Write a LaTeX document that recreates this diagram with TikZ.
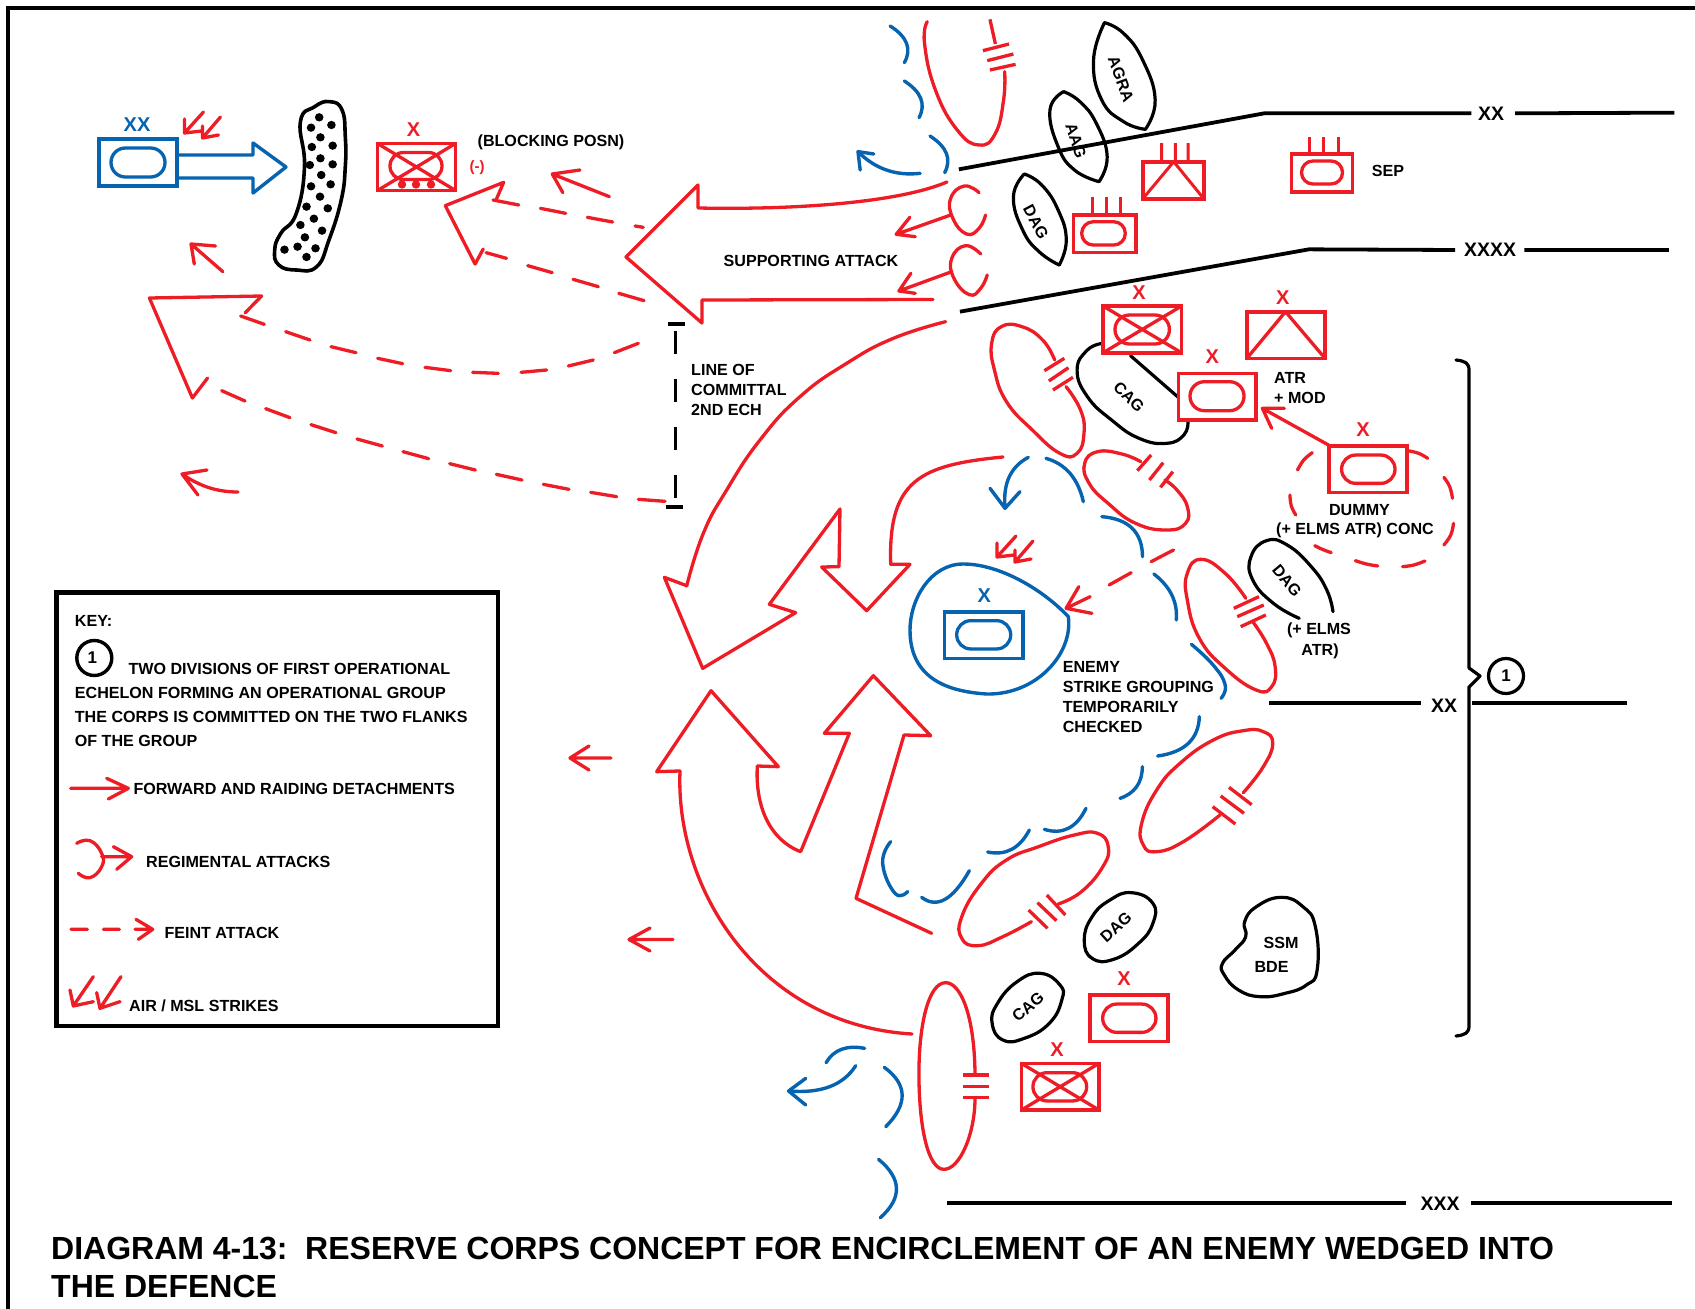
\documentclass[tikz,border=0pt]{standalone}
\usepackage{fontspec}
\setmainfont{Liberation Sans}
\newcommand\cvv[2]{\draw[#1] plot[smooth,tension=.8] coordinates {#2};}
\newcommand\cvc[2]{\draw[#1] plot[smooth cycle,tension=.8] coordinates {#2};}
% arc from (#2,#3) through (#4,#5) to (#6,#7)
\newcommand\arcq[7]{\draw[#1] (#2,#3) .. controls ({4/3*#4-#6/3},{4/3*#5-#7/3}) and ({4/3*#4-#2/3},{4/3*#5-#3/3}) .. (#6,#7);}
% box centred on (#2,#3), width #4, height #5, colour #1
\newcommand\boxr[5]{\draw[#1,line width=3.6pt,line join=miter] ({#2-#4/2},{#3-#5/2}) rectangle ({#2+#4/2},{#3+#5/2});}
% pill centred on (#2,#3), width #4, height #5
\newcommand\pill[5]{\draw[#1,line width=3.3pt,rounded corners={#5/2*1pt-0.1pt}] ({#2-#4/2},{#3-#5/2}) rectangle ({#2+#4/2},{#3+#5/2});}
\newcommand\crossbox[5]{\draw[#1,line width=3.3pt] ({#2-#4/2},{#3-#5/2}) -- ({#2+#4/2},{#3+#5/2}) ({#2+#4/2},{#3-#5/2}) -- ({#2-#4/2},{#3+#5/2});}
\newcommand\strikes[2]{\begin{scope}[shift={(#1,#2)}]
 \draw[rd] (19,-21) -- (0,0) (0,-14) -- (0,0) -- (17,-2);
 \draw[rd] (36,-16) -- (18,5) (18,-7) -- (18,5) -- (34,2);
\end{scope}}
\tikzset{
 rd/.style={draw=redc,line width=3.3pt,line cap=round,line join=round},
 bl/.style={draw=bluec,line width=3.4pt,line cap=round,line join=round},
 bk/.style={draw=black,line width=3.2pt,line cap=round,line join=round},
 lab/.style={font=\fontsize{16.1}{18}\selectfont\bfseries,inner sep=0pt,text=black},
 labw/.style={lab,anchor=west},
 lbig/.style={font=\fontsize{19.5}{22}\selectfont\bfseries,inner sep=0pt,text=black},
 xr/.style={font=\fontsize{20}{22}\selectfont\bfseries,inner sep=0pt,text=redc},
 xb/.style={font=\fontsize{20}{22}\selectfont\bfseries,inner sep=0pt,text=bluec},
 zA/.style={shift={(80,0)},xscale=0.40816,yscale=0.33333},
 zB/.style={shift={(840,0)},xscale=0.54528,yscale=0.33333},
 zC/.style={shift={(960,280)},xscale=0.34439,yscale=0.33333},
 zD/.style={shift={(640,440)},xscale=0.33333,yscale=0.33333},
 zE/.style={shift={(760,800)},xscale=0.35714,yscale=0.33333},
 zF/.style={shift={(40,580)},xscale=0.33333,yscale=0.33333},
 zG/.style={shift={(1120,710)},xscale=0.33333,yscale=0.33333},
 zH/.style={shift={(220,290)},xscale=0.33333,yscale=0.33333},
 zI/.style={shift={(660,300)},xscale=0.33333,yscale=0.33333},
}
\definecolor{redc}{HTML}{EE1C25}
\definecolor{bluec}{HTML}{0563B0}
\begin{document}
\begin{tikzpicture}[x=1pt,y=-1pt]
\useasboundingbox (0,0) rectangle (1695,1309);
\fill[white] (0,0) rectangle (1695,1309);
% page frame
\draw[black,line width=4pt] (8,1309) -- (8,8) -- (1695,8);

% ---------- top-left group
\boxr{bluec}{138}{162.5}{78}{47}
\pill{bluec}{138}{162.5}{54}{29}
\node[xb] (xxblue) at (137,125) {XX};
\draw[bl] (177,155) -- (253,155) -- (253,143) -- (286,167) -- (253,193) -- (253,178) -- (177,178);
\strikes{184.5}{133}
\begin{scope}[zA]
\cvc{bk,line width=3.6pt}{(540,365)(575,320)(612,305)(642,330)(650,410)(650,500)(640,600)(610,720)(580,800)(530,810)(487,795)(477,750)(492,700)(530,640)(550,500)}
\foreach \a/\b in {586/352,616/375,566/383,589/412,568/441,619/437,589/475,563/495,619/493,591/525,566/559,614/553,588/590,555/620,607/625,573/656,540/675,593/692,551/712,533/740,501/749,577/745,555/771}
 \fill[black] (\a,\b) ellipse [x radius=10.5,y radius=12.5];
% feint upper arrow
\draw[rd] (1020,598) -- (1038,547) -- (895,617) -- (968,792) -- (988,747);
\foreach \a/\b/\c/\d in {1012/600/1075/615,1128/625/1190/640,1243/652/1305/666,1360/678/1380/682,995/758/1045/775,1097/797/1157/818,1208/838/1270/860,1320/880/1382/902}
 \draw[rd] (\a,\b) -- (\c,\d);
\draw[rd] (1297,590) -- (1157,522) (1225,510) -- (1157,522) -- (1183,578);
\draw[rd] (350,815) -- (272,732) (332,738) -- (272,732) -- (280,792);
\end{scope}
\boxr{redc}{416.5}{167}{78}{47}
\pill{redc}{416}{166}{52}{27}
\crossbox{redc}{416.5}{167}{78}{47}
\foreach \a in {402,416,431}{\fill[redc] (\a,184.5) circle (4.2);}
\node[xr] (xa) at (413.5,130) {X};
\node[font=\fontsize{15}{18}\selectfont\bfseries,inner sep=0pt,text=redc] (minus) at (477,168) {(-)};
\node[lab] (block) at (551,142) {(BLOCKING POSN)};

% left big feint arrow
\draw[rd] (245,313) -- (261.6,296) -- (149.4,298) -- (192.4,398) -- (207.6,378);
\begin{scope}[zH]
\foreach \a/\b/\c/\d in {62/78/133/103,197/125/270/150,333/170/408/188,473/205/548/221,615/232/692/242,758/247/835/250,903/247/980/240,1045/228/1120/210,1183/188/1255/160,5/302/75/333,137/356/210/383,273/404/348/428,411/447/487/468,549/485/626/506,689/521/766/540,829/553/906/570,970/583/1047/598,1112/607/1190/620,1255/628/1335/634}
 \draw[rd] (\a,\b) -- (\c,\d);
\end{scope}
\draw[rd] (238,492) .. controls (215,492) and (198,485) .. (182,474) (207,470) -- (182,474) -- (198,495);

% supporting attack arrow
\draw[rd] (947,182) .. controls (900,202) and (800,210) .. (698,208) -- (698,185) -- (626,257) -- (702,323) -- (702,300) -- (933,299.5);
\node[lab] (supp) at (811,260.5) {SUPPORTING ATTACK};

% line of committal
\draw[black,line width=3.6pt] (667.7,324) -- (685,324) (675.3,331) -- (675.3,354) (675.3,379) -- (675.3,402) (675.3,427) -- (675.3,450) (675.3,475) -- (675.3,498) (666,507) -- (682.7,507);
\node[labw] (lc1) at (691,370) {LINE OF};
\node[labw] (lc2) at (691,389.5) {COMMITTAL};
\node[labw] (lc3) at (691,410) {2ND ECH};

% ---------- top-right group
\begin{scope}[zB]
\cvv{rd}{(160,65)(155,130)(175,270)(215,390)(255,435)(285,400)(300,300)(302,215)}
\draw[rd,line cap=butt] (275,58) -- (285,132) (262,152) -- (310,132) (270,182) -- (318,162) (275,210) -- (322,193);
\arcq{bl}{92}{78}{122}{130}{118}{188}
\arcq{bl}{118}{243}{148}{295}{145}{353}
\arcq{bl}{165}{408}{195}{460}{192}{518}
\arcq{bl}{147}{520}{85}{510}{33}{455}
\draw[bl] (62,462) -- (33,455) -- (37,510);
\cvv{rd}{(255,578)(228,558)(203,595)(207,655)(232,702)(255,685)(267,645)}
\draw[rd] (203,645) -- (103,703) (128,652) -- (103,703) -- (138,710);
\cvv{rd}{(258,762)(230,737)(205,775)(209,835)(237,884)(258,865)(270,825)}
\draw[rd] (205,815) -- (108,873) (130,820) -- (108,873) -- (138,880);
% lenses
\cvv{bk}{(485,68)(465,180)(480,300)(520,365)(560,388)}
\cvv{bk}{(560,388)(578,300)(555,180)(520,100)(485,68)}
\cvv{bk}{(410,275)(385,330)(400,440)(430,510)(475,545)}
\cvv{bk}{(475,545)(490,470)(470,370)(440,305)(410,275)}
\cvv{bk}{(338,522)(318,590)(335,690)(365,755)(402,795)}
\cvv{bk}{(402,795)(415,720)(400,630)(370,555)(338,522)}
% boundaries
\draw[black,line width=3.8pt] (218,508) -- (778,340) -- (1158,340) (1238,340) -- (1530,338);
\draw[black,line width=3.8pt] (220,935) -- (860,748) -- (1128,750) (1255,750) -- (1520,750);
\end{scope}
\node[lab,rotate=-70] (agra) at (1121,79) {AGRA};
\node[lab,rotate=-72] (aag) at (1076,141) {AAG};
\node[lab,rotate=-62] (daga) at (1036,222) {DAG};
\node[lbig] (xxa) at (1491,114) {XX};
\node[lbig] (xxxx) at (1490,250) {XXXX};
% SEP unit
\boxr{redc}{1322}{173}{61}{38}
\pill{redc}{1322}{172.5}{41}{23}
\draw[redc,line width=3pt] (1309,137) -- (1309,154) (1323.7,137) -- (1323.7,154) (1338,137) -- (1338,154);
\node[lab] (sep) at (1388,171) {SEP};
% triangle unit
\boxr{redc}{1173.5}{180.5}{61.5}{37.5}
\draw[redc,line width=3pt] (1173.7,161.7) -- (1142.6,199) (1173.7,161.7) -- (1204,199) (1161.7,143) -- (1161.7,161.7) (1175.4,143) -- (1175.4,161.7) (1188,143) -- (1188,161.7);
% DAG unit
\boxr{redc}{1104.7}{233.8}{62.6}{37.7}
\pill{redc}{1103.5}{233.4}{43.6}{23.3}
\draw[redc,line width=3pt] (1092,197) -- (1092,215) (1106,197) -- (1106,215) (1120,197) -- (1120,215);

% ---------- centre right group
\begin{scope}[zC]
\cvv{rd}{(275,240)(240,180)(180,140)(120,140)(92,190)(100,270)(135,365)(210,450)(290,520)(340,520)(360,460)(350,390)(308,320)}
\draw[rd,line cap=butt] (245,272) -- (303,235) (258,303) -- (315,263) (270,330) -- (328,292);
\cvv{rd}{(525,545)(470,522)(400,515)(362,550)(375,610)(430,670)(510,730)(600,750)(655,730)(660,680)(630,630)(595,600)}
\draw[rd,line cap=butt] (515,572) -- (555,525) (550,600) -- (590,548) (582,622) -- (618,575);
\cvv{rd}{(830,955)(770,880)(700,838)(660,880)(660,960)(695,1075)(770,1165)(860,1230)(905,1220)(915,1160)(890,1090)(850,1025)}
\draw[rd,line cap=butt] (795,985) -- (868,950) (805,1010) -- (882,975) (815,1040) -- (888,1005);
\cvv{bk}{(415,190)(370,210)(340,270)(370,350)(440,420)(520,475)(600,490)(650,465)(662,425)}
\draw[bk] (495,227) -- (635,353);
\draw[rd] (1070,495) -- (878,385) (942,385) -- (878,385) -- (905,445);
\foreach \pts in {{(1300,512)(1332,520)(1358,535)},{(1405,592)(1422,620)(1430,655)},{(1433,730)(1425,765)(1405,795)},{(1350,843)(1318,855)(1285,860)},{(1213,858)(1180,852)(1148,842)},{(1078,818)(1052,808)(1030,797)},{(958,645)(962,678)(975,705)},{(980,570)(998,540)(1023,518)}}
 {\draw[rd] plot[smooth,tension=.7] coordinates \pts;}
\cvv{bk}{(985,1015)(910,970)(850,900)(845,830)(890,782)(950,795)(1020,860)(1065,930)(1083,995)}
\draw[rd] (620,810) -- (555,845) (497,878) -- (433,915) (378,950) -- (308,985) (345,920) -- (308,985) -- (383,1000);
\arcq{bl}{412}{710}{500}{745}{530}{830}
\arcq{bl}{563}{882}{615}{945}{628}{1020}
\cvv{bl}{(672,1093)(735,1155)(770,1215)(758,1255)}
\end{scope}
\node[lab,rotate=-45] (caga) at (1129,397) {CAG};
\node[lab,rotate=-50] (dagb) at (1287,581) {DAG};
% units around CAG
\boxr{redc}{1142.3}{329.4}{78.5}{46.7}
\pill{redc}{1142.2}{329.5}{54.4}{29}
\crossbox{redc}{1142.3}{329.4}{78.5}{46.7}
\node[xr] (xb) at (1139,293) {X};
\boxr{redc}{1286}{335}{78}{46.6}
\draw[redc,line width=3.3pt] (1285.5,311.7) -- (1246.9,358.3) (1285.5,311.7) -- (1325,358.3);
\node[xr] (xc) at (1282.7,297.7) {X};
\boxr{redc}{1217.3}{396.7}{77.3}{46.7}
\pill{redc}{1217}{396.2}{54}{29}
\node[xr] (xd) at (1212.4,356.7) {X};
\node[labw] (atr) at (1274,377.5) {ATR};
\node[labw] (mod) at (1274,397.5) {+ MOD};
\boxr{redc}{1368}{469}{78}{46.6}
\pill{redc}{1368.3}{469.2}{53.4}{28.3}
\node[xr] (xe) at (1363,430) {X};
\node[lab] (dummy) at (1359.5,510) {DUMMY};
\node[lab] (conc) at (1355,530.5) {(+ ELMS ATR) CONC};
\node[lab] (elms) at (1319,630.5) {(+ ELMS};
\node[lab] (elmsb) at (1320,651) {ATR)};

% brace and division boundary
\draw[bk] (1456,360) .. controls (1465,361) and (1469,363) .. (1469,370) -- (1469,668) -- (1480,676) -- (1469,687) -- (1469,1026) .. controls (1469,1033) and (1465,1035) .. (1456,1036);
\node[draw=black,line width=3.2pt,circle,minimum size=35pt,inner sep=0pt,font=\fontsize{17}{20}\selectfont\bfseries] (one) at (1506,676) {1};
\draw[black,line width=3.8pt] (1269,703) -- (1421,703) (1472,703) -- (1627,703);
\node[lbig] (xxb) at (1444,706) {XX};

% ---------- the centre
\begin{scope}[zI]
\draw[rd] plot[smooth,tension=.8] coordinates {(857,65)(700,115)(560,190)(420,290)(300,420)(200,570)(130,700)(80,858)};
\end{scope}
\begin{scope}[zD]
\draw[rd] (140,437) -- (73,412) -- (188,685) -- (467,518) -- (388,493) -- (600,207) -- (597,380) -- (545,381) -- (680,512) -- (810,373) -- (752,373);
\arcq{bl}{1165}{52}{1108}{110}{1095}{200}
\draw[bl] (1050,145) -- (1095,205) -- (1140,155);
\arcq{bl}{1218}{55}{1290}{100}{1330}{185}
% enemy pocket
\draw[bl] (970,372) .. controls (1080,372) and (1210,450) .. (1285,530) .. controls (1300,640) and (1190,765) .. (1040,762) .. controls (930,755) and (810,720) .. (810,570) .. controls (810,480) and (870,372) .. cycle;
\draw[rd] (120,993) -- (50,995) -- (213,752) -- (415,980) -- (352,978) .. controls (345,1100) and (390,1200) .. (482,1235) -- (628,880) -- (553,880) -- (700,707) -- (872,887) -- (792,885) -- (648,1375) -- (875,1480);
% encirclement arcs
\arcq{bl}{1043}{1236}{1115}{1228}{1168}{1170}
\arcq{bl}{1213}{1168}{1285}{1165}{1338}{1105}
\arcq{bl}{845}{1372}{915}{1378}{988}{1292}
\cvv{bl}{(752,1205)(728,1270)(765,1360)(803,1355)}
\end{scope}
\draw[rd] (890.7,564.3) .. controls (888,480) and (920,465) .. (1003,457);
\draw[rd] (912,1034) .. controls (760,1025) and (675,890) .. (680,771);
\strikes{997}{557}
\boxr{bluec}{983.5}{635}{78.4}{46.6}
\pill{bluec}{983.7}{634.8}{54}{28.3}
\node[xb] (xf) at (984.3,596) {X};
\node[labw] (en1) at (1062.6,666.7) {ENEMY};
\node[labw] (en2) at (1062.6,686.7) {STRIKE GROUPING};
\node[labw] (en3) at (1062.6,706.7) {TEMPORARILY};
\node[labw] (en4) at (1062.6,726.7) {CHECKED};
\begin{scope}[zG]
\cvv{rd}{(370,248)(430,170)(458,100)(430,65)(370,62)(280,90)(180,160)(110,240)(65,340)(70,405)(110,425)(190,395)(300,315)}
\draw[rd,line cap=butt] (278,290) -- (346,342) (302,258) -- (372,310) (327,232) -- (395,284);
\arcq{bl}{238}{20}{205}{100}{113}{138}
\arcq{bl}{67}{170}{50}{230}{0}{265}
\end{scope}

% ---------- bottom group
\begin{scope}[zE]
\cvv{rd}{(835,312)(900,275)(960,200)(975,140)(945,100)(880,105)(780,140)(690,180)(620,250)(565,350)(565,415)(610,437)(680,410)(760,365)}
\draw[rd,line cap=butt] (752,330) -- (805,385) (777,308) -- (830,362) (803,285) -- (855,345);
\cvc{bk}{(1040,278)(1100,310)(1100,370)(1060,430)(990,478)(930,475)(908,420)(930,350)(980,300)}
\cvc{bk}{(785,520)(840,555)(845,600)(810,670)(740,715)(680,720)(650,670)(665,610)(720,545)}
\cvc{bk}{(1460,292)(1520,320)(1555,380)(1560,510)(1530,555)(1470,580)(1400,590)(1340,570)(1300,525)(1295,490)(1330,450)(1360,410)(1357,365)(1390,320)}
\draw[rd] (602,820) .. controls (600,640) and (560,548) .. (520,548) .. controls (470,548) and (445,680) .. (445,820) .. controls (445,980) and (470,1108) .. (515,1108) .. controls (560,1108) and (602,1000) .. (602,895);
\draw[rd,line cap=butt] (568,825) -- (640,825) (568,860) -- (642,860) (568,893) -- (640,893);
\arcq{bl}{185}{788}{228}{748}{293}{745}
\arcq{bl}{268}{797}{195}{860}{80}{873}
\draw[bl] (128,835) -- (80,873) -- (128,915);
\arcq{bl}{348}{802}{398}{885}{352}{980}
\arcq{bl}{332}{1078}{382}{1165}{337}{1253}
\end{scope}
\node[lab,rotate=42] (dagc) at (1116,927) {DAG};
\node[lab,rotate=40] (cagb) at (1028,1007) {CAG};
\node[lab] (ssm) at (1281,942.5) {SSM};
\node[lab] (bde) at (1271.6,966.5) {BDE};
\boxr{redc}{1129}{1018.3}{78}{46.7}
\pill{redc}{1129.3}{1018.2}{53.3}{28.3}
\node[xr] (xg) at (1124,979) {X};
\boxr{redc}{1060.2}{1086.7}{77.7}{46.7}
\pill{redc}{1059.8}{1086.8}{53.7}{28.3}
\crossbox{redc}{1060.2}{1086.7}{77.7}{46.7}
\node[xr] (xh) at (1057,1050) {X};
\draw[black,line width=3.8pt] (947.4,1203) -- (1405.5,1203) (1471,1203) -- (1672,1203);
\node[lbig] (xxx) at (1440,1204) {XXX};

% small stray arrows
\draw[rd] (611,758) -- (570,758) (589,746) -- (570,758) -- (589,770);
\draw[rd] (673,939.5) -- (629,939.5) (650,928) -- (629,939.5) -- (650,951);

% ---------- key
\draw[black,line width=4.5pt] (56.7,592.7) rectangle (498,1026);
\node[labw] (key) at (74.7,620.7) {KEY:};
\node[draw=black,line width=3.4pt,circle,minimum size=35pt,inner sep=0pt,font=\fontsize{17}{20}\selectfont\bfseries] (onek) at (94.3,658) {\hspace{-4pt}\raisebox{1pt}{1}};
\node[labw] (k1) at (128.3,668.5) {TWO DIVISIONS OF FIRST OPERATIONAL};
\node[labw] (k2) at (74.7,693.3) {ECHELON FORMING AN OPERATIONAL GROUP};
\node[labw] (k3) at (74.7,717.3) {THE CORPS IS COMMITTED ON THE TWO FLANKS};
\node[labw] (k4) at (74.7,741.3) {OF THE GROUP};
\node[labw] (k5) at (133.3,789.3) {FORWARD AND RAIDING DETACHMENTS};
\node[labw] (k6) at (146,861.7) {REGIMENTAL ATTACKS};
\node[labw] (k7) at (164.3,933.3) {FEINT ATTACK};
\node[labw] (k8) at (129,1005.7) {AIR / MSL STRIKES};
\begin{scope}[zF]
\draw[rd] (92,625) -- (265,625) (200,595) -- (265,625) -- (205,657);
\cvv{rd}{(110,790)(150,782)(185,820)(185,860)(150,893)(115,880)}
\draw[rd] (185,830) -- (275,830) (220,800) -- (275,830) -- (230,868);
\draw[rd] (93,1048) -- (142,1048) (190,1048) -- (238,1048) (285,1048) -- (338,1048) (288,1018) -- (338,1048) -- (295,1078);
\draw[rd] (160,1190) -- (100,1278) (90,1230) -- (100,1278) -- (160,1265);
\draw[rd] (243,1190) -- (180,1285) (170,1238) -- (180,1285) -- (240,1265);
\end{scope}

% ---------- title
\node[anchor=west,inner sep=0pt,font=\fontsize{32}{38}\selectfont\bfseries] (t1) at (51,1248) {DIAGRAM 4-13:\hspace{0.55em}RESERVE CORPS CONCEPT FOR ENCIRCLEMENT OF AN ENEMY WEDGED INTO};
\node[anchor=west,inner sep=0pt,font=\fontsize{32}{38}\selectfont\bfseries] (t2) at (51,1286.5) {THE DEFENCE};
\end{tikzpicture}
\end{document}
